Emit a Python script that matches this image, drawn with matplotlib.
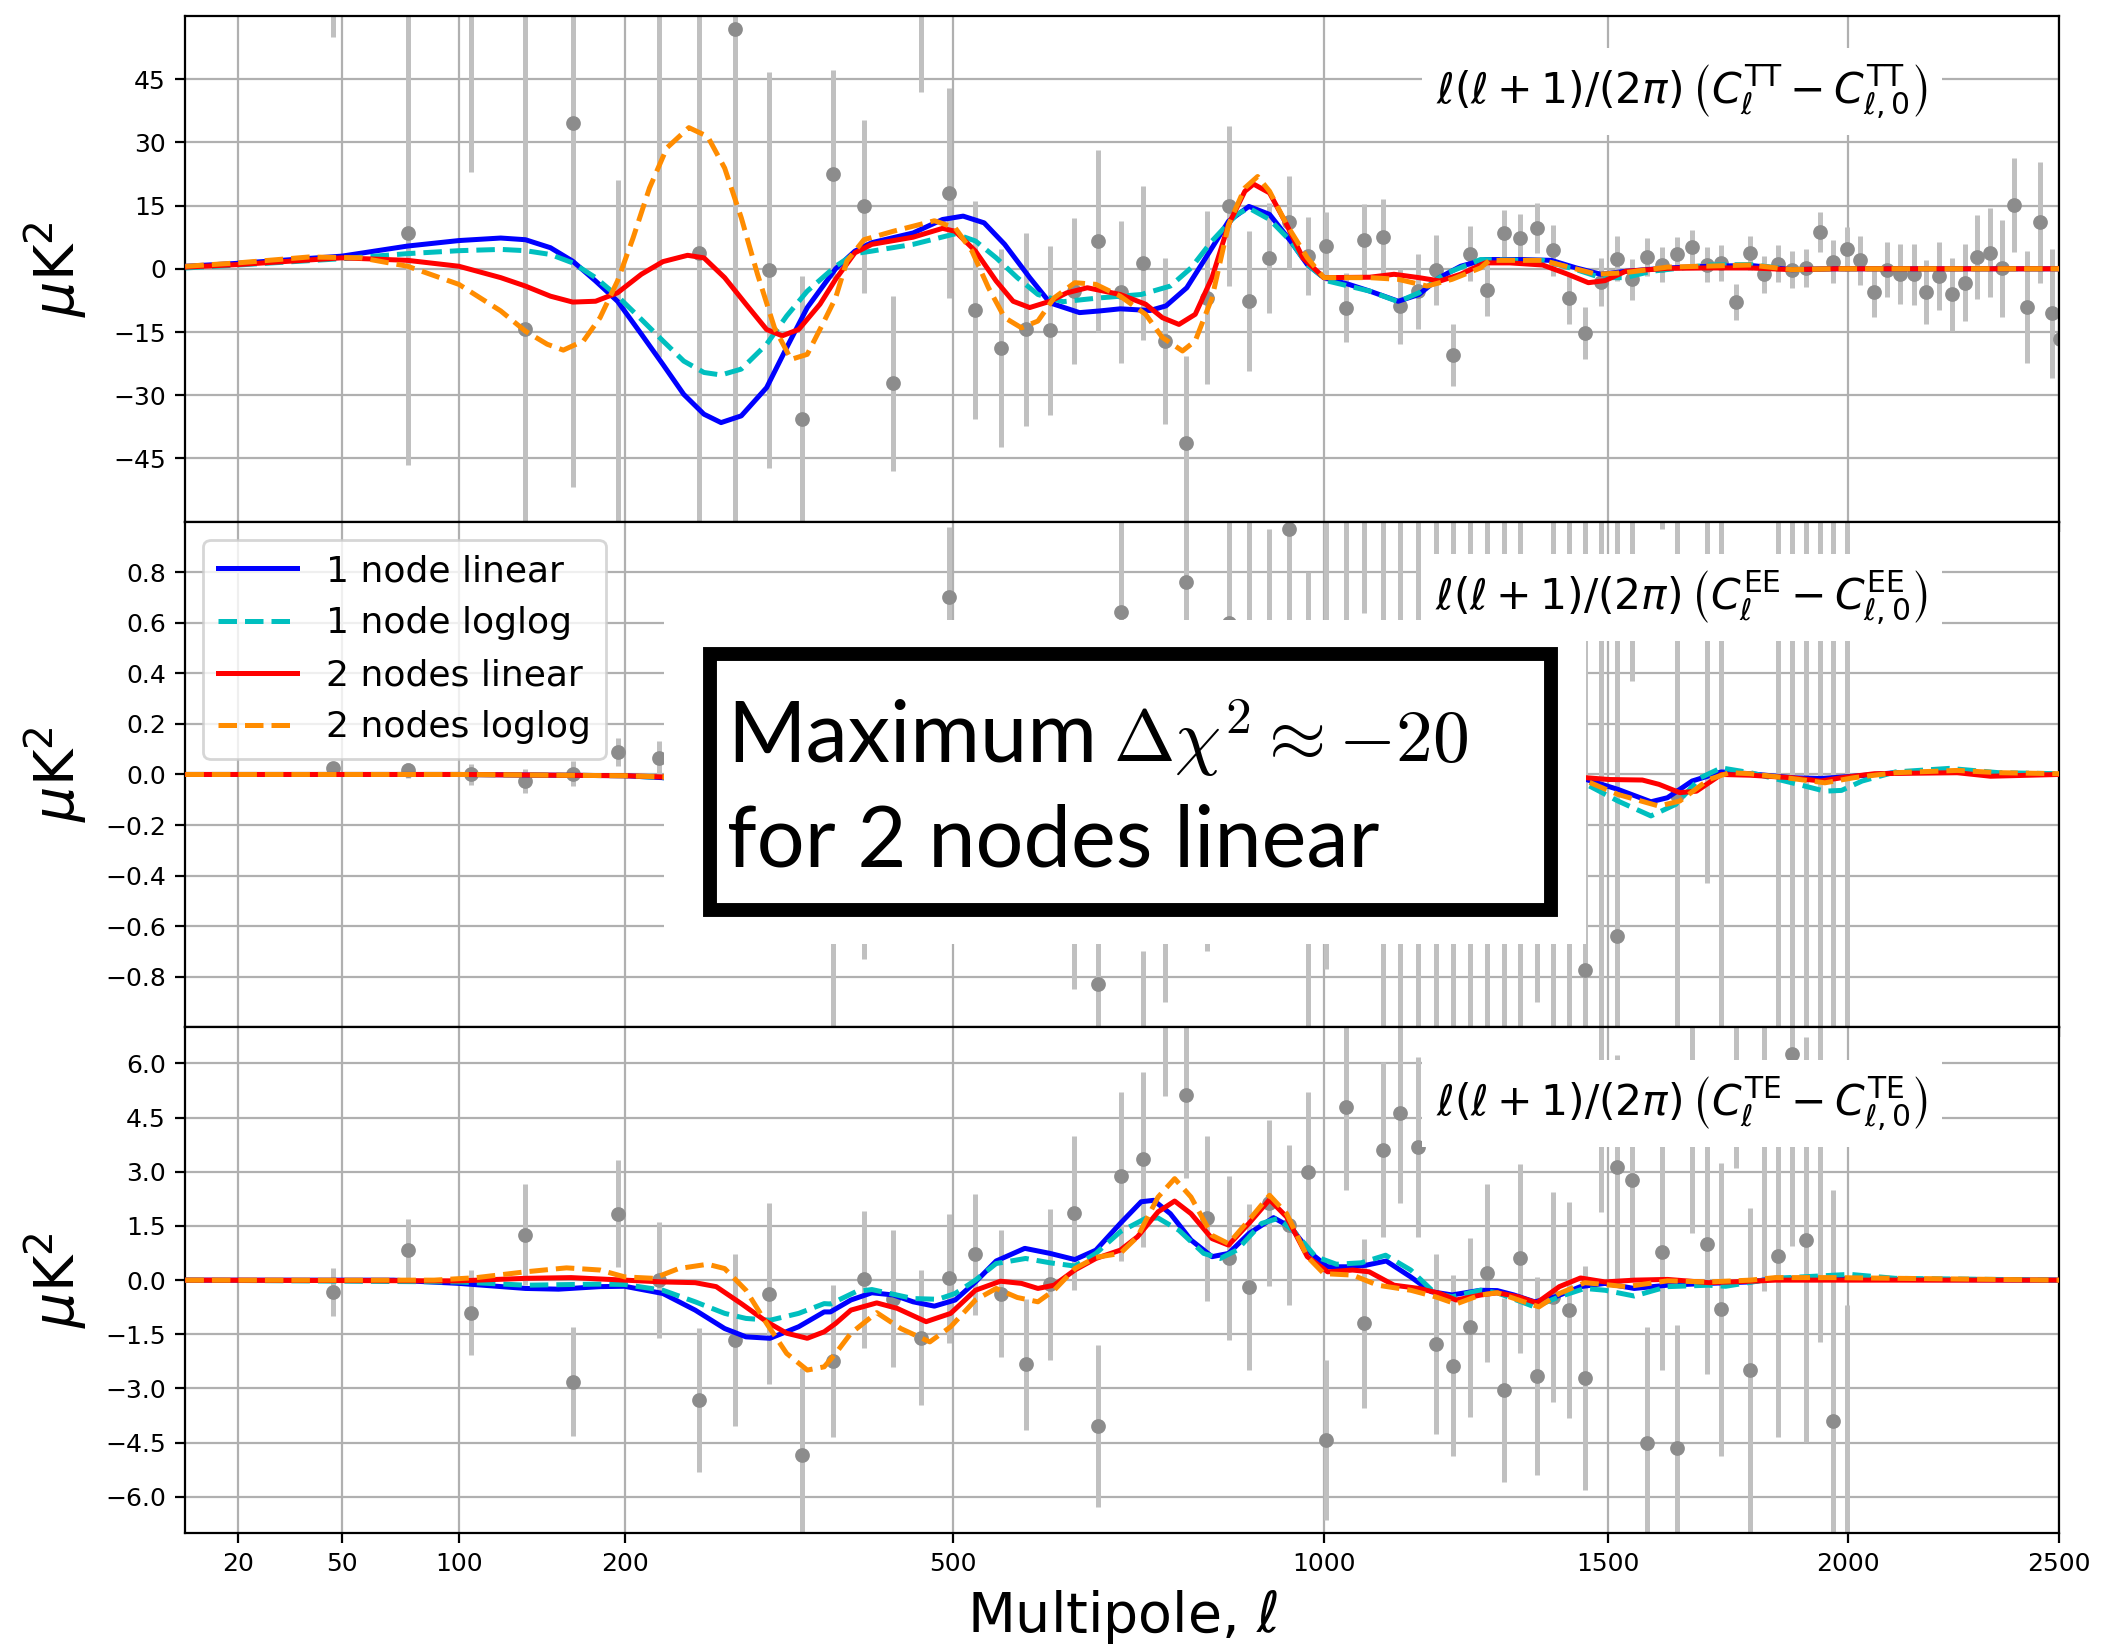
import numpy as np
import matplotlib.pyplot as plt
from matplotlib.patches import Rectangle

# binned multipoles (TT uses all, TE/EE stop at 2000)
ell = [47, 76, 106, 136, 165, 195, 225, 256, 286, 315, 345, 374, 405, 435, 465,
       495, 525, 555, 585, 614, 644, 675, 705, 735, 765, 794, 824, 855, 885, 915,
       945, 975, 1004, 1035, 1065, 1095, 1124, 1155, 1185, 1215, 1245, 1275, 1305,
       1335, 1365, 1396, 1426, 1456, 1486, 1517, 1547, 1577, 1607, 1637, 1667, 1698,
       1727, 1757, 1788, 1818, 1848, 1878, 1908, 1938, 1968, 1999, 2028, 2058, 2089,
       2119, 2150, 2179, 2210, 2240, 2270, 2300, 2330, 2360, 2390, 2421, 2452, 2482, 2503]

tt_val = [85, 8.5, 63, -14.4, 34.7, -65, 70, 3.8, 56.9, -0.2, -35.7, 22.5, 14.8, -27.2, 64,
          18.0, -9.8, -18.9, -14.4, -14.6, -5.3, 6.6, -5.5, 1.4, -17.1, -41.4, -6.9, 14.8, -7.7, 2.6,
          11.0, 3.0, 5.3, -9.2, 6.8, 7.6, -8.9, -5.3, -0.3, -20.5, 3.6, -5.1, 8.4,
          7.3, 9.7, 4.4, -7.0, -15.2, -3.1, 2.4, -2.5, 2.8, 1.0, 3.6, 5.1, 1.0,
          1.4, -7.8, 3.8, -1.3, 1.2, -0.2, 0.2, 8.7, 1.7, 4.6, 2.0, -5.5, -0.2,
          -1.2, -1.3, -5.5, -1.7, -6.1, -3.3, 2.8, 3.8, 0.1, 15.1, -9.0, 11.0, -10.6, -16.7]
tt_err = [30, 55, 40, 80, 86.6, 86, 91, 80, 120, 47, 34, 24.7, 20.5, 20.7, 22,
          24.9, 25.8, 23.5, 22.9, 20, 17.4, 21.6, 16.9, 18.3, 19.7, 20.7, 20.5, 19, 16.6, 13.1,
          11, 9.3, 8.2, 8.2, 8.6, 9, 8.9, 8.9, 8.4, 7.4, 6.6, 6, 5.6,
          5.8, 5.9, 6.1, 6, 6.2, 5.7, 5.3, 4.8, 4.4, 4.1, 4.0, 4.0, 4.2,
          4.3, 4.3, 4.1, 4.4, 4.4, 4.4, 4.6, 4.8, 5.1, 5.2, 5.9, 6.0, 6.5,
          7.1, 7.3, 7.6, 8.1, 8.6, 9.2, 10, 10.6, 11.5, 11.2, 13.3, 14.3, 15.4, 19]

te_ell = ell[:66]
te_val = [-0.33, 0.83, -0.90, 1.26, -2.81, 1.84, 0.0, -3.32, -1.66, -0.37, -4.84, -2.24, 0.02, -0.51, -1.59,
          0.05, 0.71, -0.37, -2.33, -0.12, 1.86, -4.03, 2.88, 3.34, 7.6, 5.12, 1.71, 0.62, -0.18, 2.14,
          1.52, 3.0, -4.42, 4.79, -1.20, 3.61, 4.63, 3.69, -1.77, -2.37, -1.31, 0.20, -3.04,
          0.60, -2.65, -0.47, -0.83, -2.72, 4.8, 3.13, 2.78, -4.50, 0.77, -4.65, 4.7, 1.01,
          -0.81, 5.5, -2.49, 4.5, 0.66, 6.25, 1.12, 4.2, -3.90, -8.0]
te_err = [0.67, 0.85, 1.17, 1.4, 1.5, 1.48, 1.6, 2.0, 2.37, 2.5, 2.4, 2.1, 1.9, 1.9, 1.86,
          1.79, 1.68, 1.77, 1.82, 2.08, 2.14, 2.24, 2.34, 2.43, 2.5, 2.3, 2.28, 2.27, 2.3, 2.29,
          2.22, 2.2, 2.21, 2.3, 2.35, 2.42, 2.5, 2.49, 2.5, 2.5, 2.47, 2.47, 2.55,
          2.62, 2.75, 2.9, 3.0, 3.1, 2.9, 3.1, 2.8, 3.2, 3.26, 3.4, 3.4, 3.6,
          4.05, 2.4, 4.5, 4.8, 5.0, 5.3, 5.6, 5.9, 6.4, 7.3]

ee_ell = [47, 76, 106, 136, 165, 195, 225, 256, 286, 315, 345, 374, 405, 435, 465,
          495, 525, 555, 585, 614, 644, 675, 705, 735, 765, 794, 824, 855, 885, 915,
          945, 975, 1004, 1035, 1065, 1095, 1124, 1155, 1185, 1215, 1245, 1275, 1305,
          1335, 1365, 1396, 1426, 1456, 1486, 1517, 1547, 1607, 1637, 1698, 1727,
          1848, 1878, 1908, 1938, 1968, 1999]
ee_val = [0.024, 0.016, 0.0, -0.026, 0.003, 0.088, 0.066, 0.05, -0.05, 0.1, -0.1, -0.3, -0.1, 0.1, -0.1,
          0.70, 0.2, -0.2, 0.1, -0.2, -0.35, -0.83, 0.643, -1.1, -0.3, 0.763, -0.2, 0.6, 0.3, 0.2,
          0.97, -0.15, 0.2, 0.4, 1.2, 0.0, -0.1, 0.1, 0.0, 0.1, -0.1, 0.2, -0.2,
          0.1, -0.2, 0.1, -0.1, -0.774, 0.7, -0.64, 1.2, 1.3, -0.08, 0.7, 0.6,
          0.7, 0.65, 0.7, 0.65, 0.7, 0.7]
ee_err = [0.02, 0.03, 0.04, 0.046, 0.05, 0.055, 0.067, 0.09, 0.12, 0.15, 0.2, 0.75, 0.63, 0.4, 0.4,
          0.28, 0.35, 0.35, 0.4, 0.4, 0.5, 0.5, 0.5, 0.4, 0.6, 0.6, 0.5, 0.4, 0.7, 0.77,
          0.8, 0.95, 0.97, 0.8, 0.56, 1.1, 1.2, 1.2, 1.25, 1.3, 1.3, 1.3, 1.3,
          1.4, 0.7, 1.4, 1.4, 1.8, 1.9, 1.9, 0.83, 0.33, 1.3, 1.13, 1.7,
          2.0, 2.0, 2.1, 2.1, 2.2, 2.3]

# best-fit residual curves, TT
tt_1lin_ell = [10, 20, 50, 76, 100, 122, 136, 151, 165, 180, 195, 212, 228, 244, 260, 274, 291, 313, 331,
               350, 377, 396, 413, 456, 488, 511, 535, 559, 589, 614, 651, 677, 704, 744, 766, 795, 825,
               855, 885, 916, 948, 974, 1000, 1040, 1074, 1121, 1156, 1191, 1228, 1271, 1338, 1392,
               1439, 1486, 1534, 1617, 1701, 1788, 1877, 1967, 2500]
tt_1lin = [0.6, 1.3, 3.0, 5.4, 6.7, 7.3, 6.9, 5.0, 1.8, -2.9, -7.7, -15.5, -22.7, -29.8, -34.5, -36.5, -34.9,
           -28.2, -18.7, -9.2, 0, 4.2, 6.2, 8.5, 11.7, 12.5, 10.9, 5.8, -2.1, -8.1, -10.4, -10.0, -9.5,
           -9.9, -8.8, -4.5, 3.4, 11.3, 14.8, 12.9, 6.6, 1.0, -2.1, -3.7, -5.3, -7.7, -6.1, -2.1, 0.6,
           2.2, 2.2, 2.0, 0.2, -1.3, -0.6, 0.2, 0.6, 0.8, -0.2, 0, 0]
tt_1log_ell = [10, 20, 50, 76, 100, 122, 136, 151, 165, 180, 195, 212, 228, 244, 260, 274, 291, 313, 331,
               350, 377, 396, 413, 456, 502, 525, 549, 574, 599, 630, 677, 732, 772, 801, 831, 867, 885,
               916, 948, 974, 1006, 1074, 1121, 1156, 1199, 1263, 1338, 1376, 1439, 1486, 1534, 1584,
               1701, 1788, 1877, 1967, 2500]
tt_1log = [0.2, 0.9, 2.4, 3.6, 4.3, 4.6, 4.3, 3.4, 1.4, -2.1, -6.5, -12.0, -17.1, -21.9, -24.6, -25.2,
           -23.8, -17.9, -11.2, -5.3, 0.6, 3.6, 4.2, 5.8, 8.3, 6.6, 2.6, -2.1, -6.1, -7.8, -6.9, -6.1,
           -4.1, 0.2, 6.6, 12.9, 14.4, 11.7, 6.6, 1.0, -2.9, -5.3, -7.8, -5.7, -1.3, 2.2, 2.0, 2.0,
           -0.2, -2.1, -2.1, -0.6, 0.9, 1.0, -0.2, 0, 0]
tt_2lin_ell = [10, 20, 50, 76, 100, 122, 136, 151, 165, 180, 195, 212, 228, 247, 260, 277, 295, 313, 327,
               342, 362, 377, 396, 413, 456, 488, 502, 525, 549, 569, 589, 614, 635, 661, 704, 738, 761,
               784, 807, 831, 855, 879, 892, 916, 942, 967, 1000, 1074, 1114, 1156, 1192, 1228, 1271,
               1316, 1376, 1423, 1462, 1494, 1534, 1617, 1701, 1788, 1877, 1967, 2500]
tt_2lin = [0.4, 1.0, 2.6, 2.0, 0.6, -2.1, -4.1, -6.5, -7.9, -7.7, -5.7, -1.3, 1.7, 3.2, 2.6, -2.1, -8.4,
           -14.4, -15.9, -14.4, -8.4, -2.5, 3.8, 5.8, 7.5, 9.6, 8.9, 4.2, -2.9, -7.7, -9.2, -7.7, -5.7,
           -4.5, -6.1, -8.4, -11.6, -13.2, -10.8, -2.1, 10.5, 18.4, 20.1, 18.0, 10.5, 2.6, -2.1, -2.0,
           -1.3, -2.1, -2.9, -1.3, 1.4, 1.4, 0.9, -1.3, -3.3, -2.8, -0.6, 0.1, 0.2, 0.2, -0.2, 0, 0]
tt_2log_ell = [10, 20, 39, 57, 76, 100, 122, 136, 149, 159, 172, 183, 195, 206, 218, 231, 248, 263, 277,
               291, 305, 320, 335, 350, 366, 377, 388, 405, 435, 479, 502, 521, 540, 559, 579, 599, 619,
               645, 672, 704, 738, 761, 789, 807, 831, 855, 879, 898, 916, 942, 974, 1000, 1074, 1121,
               1170, 1213, 1263, 1279, 1376, 1431, 1478, 1534, 1617, 1788, 1877, 1967, 2500]
tt_2log = [0.6, 1.4, 2.8, 2.6, 0.6, -3.7, -10.0, -14.8, -17.9, -19.3, -17.1, -11.6, -2.9, 7.3, 19.2, 28.7,
           33.5, 31.4, 23.9, 12.1, -1.3, -14.0, -21.5, -20.3, -12.4, -6.9, 1.8, 6.9, 8.9, 11.4, 9.7, 4.2,
           -4.5, -11.6, -14.0, -12.4, -6.9, -3.3, -3.7, -6.5, -10.8, -16.3, -19.5, -17.1, -6.9, 10.5,
           19.2, 21.9, 18.4, 10.5, 2.6, -2.1, -2.1, -2.5, -4.1, -2.5, 0.2, 2.0, 2.0, 0.2, -1.3, -0.9,
           0.4, 0.9, -0.2, 0, 0]

# EE residual curves (the middle stretch sits under the annotation)
ee_1lin_ell = [10, 100, 200, 229, 1458, 1519, 1584, 1617, 1667, 1727, 1788, 1877, 1940, 2013, 2108,
               2252, 2352, 2500]
ee_1lin = [0, 0, -0.005, -0.013, -0.02, -0.059, -0.108, -0.092, -0.026, 0.010, 0.003, -0.013, -0.016,
           -0.007, 0.007, 0.010, 0, 0]
ee_1log_ell = [10, 100, 200, 229, 1458, 1519, 1584, 1634, 1684, 1727, 1788, 1877, 1949, 1986, 2032,
               2108, 2233, 2352, 2500]
ee_1log = [0, 0, -0.005, -0.013, -0.039, -0.105, -0.164, -0.118, -0.013, 0.026, 0.007, -0.033, -0.066,
           -0.063, -0.026, 0.010, 0.024, 0.007, 0.003]
ee_2lin_ell = [10, 100, 200, 229, 1458, 1502, 1567, 1600, 1642, 1676, 1727, 1788, 1877, 1940, 1986,
               2060, 2252, 2332, 2500]
ee_2lin = [0, 0, -0.005, -0.010, -0.013, -0.020, -0.022, -0.039, -0.072, -0.066, 0, -0.003, -0.013,
           -0.026, -0.013, 0.003, 0.007, -0.007, 0]
ee_2log_ell = [10, 100, 200, 229, 1458, 1519, 1600, 1642, 1701, 1744, 1788, 1877, 1949, 2013, 2108,
               2252, 2352, 2500]
ee_2log = [0, 0, -0.005, -0.010, -0.026, -0.079, -0.125, -0.105, -0.020, 0.007, 0.003, -0.016, -0.033,
           -0.013, 0.007, 0.016, 0.007, 0.003]

# TE residual curves
te_1lin_ell = [10, 70, 100, 136, 156, 183, 200, 228, 253, 277, 295, 316, 342, 366, 372, 392, 413, 435,
               456, 479, 502, 525, 549, 583, 614, 645, 672, 704, 732, 749, 772, 801, 831, 855, 885, 922,
               948, 980, 1006, 1040, 1067, 1101, 1142, 1177, 1213, 1263, 1293, 1323, 1361, 1400, 1447,
               1494, 1551, 1617, 1701, 1788, 1841, 1967, 2060, 2500]
te_1lin = [0, 0, -0.09, -0.23, -0.25, -0.18, -0.17, -0.37, -0.83, -1.34, -1.57, -1.61, -1.29, -0.88,
           -0.88, -0.55, -0.35, -0.41, -0.60, -0.72, -0.55, -0.05, 0.53, 0.88, 0.74, 0.57, 0.83, 1.57,
           2.17, 2.21, 1.84, 1.11, 0.65, 0.74, 1.29, 1.73, 1.47, 0.74, 0.37, 0.37, 0.41, 0.53, 0.09,
           -0.32, -0.41, -0.28, -0.29, -0.41, -0.60, -0.46, -0.18, -0.09, -0.23, -0.14, -0.09, -0.05,
           0.05, 0.05, 0.02, 0]
te_1log_ell = [10, 100, 136, 183, 200, 228, 253, 277, 295, 316, 342, 366, 372, 397, 413, 456, 483, 502,
               525, 549, 584, 614, 645, 672, 704, 738, 755, 784, 819, 843, 867, 904, 929, 954, 987, 1020,
               1060, 1100, 1142, 1184, 1213, 1263, 1293, 1361, 1407, 1455, 1494, 1551, 1617, 1701,
               1736, 1841, 2004, 2108, 2500]
te_1log = [0, -0.05, -0.14, -0.11, -0.12, -0.28, -0.60, -0.92, -1.06, -1.11, -0.92, -0.65, -0.66, -0.32,
           -0.26, -0.51, -0.53, -0.37, 0, 0.46, 0.60, 0.48, 0.39, 0.74, 1.34, 1.71, 1.72, 1.38, 0.74,
           0.60, 0.83, 1.57, 1.71, 1.34, 0.65, 0.44, 0.48, 0.69, 0.28, -0.37, -0.46, -0.28, -0.35,
           -0.74, -0.46, -0.23, -0.28, -0.44, -0.18, -0.14, -0.17, 0.05, 0.16, 0.05, 0]
te_2lin_ell = [10, 100, 136, 164, 200, 228, 253, 270, 291, 313, 331, 350, 366, 377, 392, 418, 439, 470,
               497, 525, 554, 579, 599, 619, 645, 672, 704, 727, 755, 778, 801, 831, 855, 885, 916, 942,
               974, 1006, 1046, 1073, 1114, 1156, 1192, 1220, 1264, 1293, 1331, 1365, 1407, 1447, 1494,
               1551, 1617, 1701, 1788, 1841, 2500]
te_2lin = [0, -0.02, 0.05, 0.07, 0, -0.05, -0.07, -0.18, -0.65, -1.15, -1.47, -1.61, -1.43, -1.20, -0.83,
           -0.63, -0.78, -1.15, -0.92, -0.28, -0.03, -0.09, -0.23, -0.14, 0.28, 0.60, 0.83, 1.20, 1.89,
           2.19, 1.84, 1.15, 0.97, 1.57, 2.23, 1.75, 0.65, 0.23, 0.28, 0.23, -0.14, -0.23, -0.37,
           -0.55, -0.41, -0.35, -0.46, -0.63, -0.18, 0.06, -0.05, 0, 0.02, -0.07, -0.03, 0, 0]
te_2log_ell = [10, 88, 109, 136, 161, 183, 200, 221, 240, 263, 277, 295, 313, 331, 350, 366, 377, 392,
               418, 443, 474, 497, 525, 549, 574, 599, 619, 645, 672, 704, 727, 755, 778, 801, 831, 855,
               885, 916, 942, 974, 1000, 1046, 1087, 1142, 1184, 1220, 1263, 1293, 1369, 1407, 1455,
               1535, 1617, 1701, 1788, 1841, 1967, 2500]
te_2log = [0, 0, 0.07, 0.23, 0.34, 0.28, 0.09, 0.05, 0.32, 0.44, 0.32, -0.28, -1.20, -2.03, -2.49, -2.40,
           -2.03, -1.47, -0.90, -1.34, -1.71, -1.29, -0.55, -0.23, -0.48, -0.60, -0.28, 0.32, 0.63,
           0.74, 1.20, 2.30, 2.81, 2.30, 1.24, 1.01, 1.66, 2.35, 1.84, 0.65, 0.18, 0.14, -0.14, -0.28,
           -0.46, -0.66, -0.41, -0.35, -0.74, -0.37, -0.07, -0.18, -0.02, -0.05, 0, 0.07, 0.07, 0]

xticks = [20, 50, 100, 200, 500, 1000, 1500, 2000, 2500]
labels = ['1 node linear', '1 node loglog', '2 nodes linear', '2 nodes loglog']


def fwd(x):
    return np.sqrt(np.clip(x, 0, None))


def inv(x):
    return np.asarray(x) ** 2


fig, axes = plt.subplots(3, 1, sharex=True, figsize=(10.535, 8.225), dpi=200)
fig.subplots_adjust(left=0.088, right=0.9772, top=0.9903, bottom=0.0681, hspace=0)

panels = [
    (ell, tt_val, tt_err, 'TT', 60, [-45, -30, -15, 0, 15, 30, 45],
     [(tt_1lin_ell, tt_1lin), (tt_1log_ell, tt_1log), (tt_2lin_ell, tt_2lin), (tt_2log_ell, tt_2log)]),
    (ee_ell, ee_val, ee_err, 'EE', 1, [-0.8, -0.6, -0.4, -0.2, 0.0, 0.2, 0.4, 0.6, 0.8],
     [(ee_1lin_ell, ee_1lin), (ee_1log_ell, ee_1log), (ee_2lin_ell, ee_2lin), (ee_2log_ell, ee_2log)]),
    (te_ell, te_val, te_err, 'TE', 7, [-6.0, -4.5, -3.0, -1.5, 0.0, 1.5, 3.0, 4.5, 6.0],
     [(te_1lin_ell, te_1lin), (te_1log_ell, te_1log), (te_2lin_ell, te_2lin), (te_2log_ell, te_2log)]),
]
styles = [dict(color='b', ls='-'), dict(color='c', ls='--'),
          dict(color='r', ls='-'), dict(color='darkorange', ls='--')]

for ax, (x, y, yerr, spec, ylim, yticks, curves) in zip(axes, panels):
    ax.set_xscale('function', functions=(fwd, inv))
    ax.errorbar(x, y, yerr=yerr, fmt='o', ms=4.3, color='#8c8c8c', ecolor='#c0c0c0',
                elinewidth=1.8, capsize=0, zorder=2)
    for (cx, cy), st, lab in zip(curves, styles, labels):
        ax.plot(cx, cy, lw=1.8, label=lab, zorder=3, solid_joinstyle='round', **st)
    ax.set_ylim(-ylim, ylim)
    ax.set_yticks(yticks)
    ax.grid(True, color='#b0b0b0', lw=0.8, zorder=0)
    ax.set_axisbelow(True)
    ax.tick_params(labelsize=9)
    ax.set_ylabel(r'$\mu$K$^2$', fontsize=20)
    ax.yaxis.set_label_coords(-0.051, 0.5)
    txt = (r'$\ell(\ell+1)/(2\pi)\,\left(C_\ell^{\mathrm{%s}}-C_{\ell,0}^{\mathrm{%s}}\right)$'
           % (spec, spec))
    ax.text(0.93, 0.85, txt, transform=ax.transAxes, ha='right', va='center', fontsize=15.3,
            zorder=6, bbox=dict(facecolor='white', edgecolor='none', pad=5))

axes[0].set_xlim(10, 2500)
axes[-1].set_xticks(xticks)
axes[-1].set_xticklabels([str(t) for t in xticks])
axes[-1].set_xlabel(r'Multipole, $\ell$', fontsize=20)

axes[1].legend(loc='upper left', fontsize=13, handlelength=2.2, framealpha=0.8)

# annotation panel over the EE residuals
ax = axes[1]
ax.add_patch(Rectangle((0.2554, 0.164), 0.4921, 0.641, transform=ax.transAxes,
                       facecolor='white', edgecolor='none', zorder=10, clip_on=False))
ax.add_patch(Rectangle((0.2799, 0.2327), 0.4489, 0.505, transform=ax.transAxes,
                       facecolor='white', edgecolor='black', lw=5, zorder=11, clip_on=False))
ax.text(0.289, 0.5247, 'Maximum', transform=ax.transAxes,
        ha='left', va='baseline', fontsize=30.5, family='Lato', zorder=12)
ax.text(0.495, 0.5247, r'$\Delta\chi^2 \approx {-}20$', transform=ax.transAxes,
        ha='left', va='baseline', fontsize=26.5, math_fontfamily='cm', zorder=12)
ax.text(0.289, 0.3176, 'for 2 nodes linear', transform=ax.transAxes,
        ha='left', va='baseline', fontsize=30.5, family='Lato', zorder=12)

fig.savefig('out.png', dpi=200)
